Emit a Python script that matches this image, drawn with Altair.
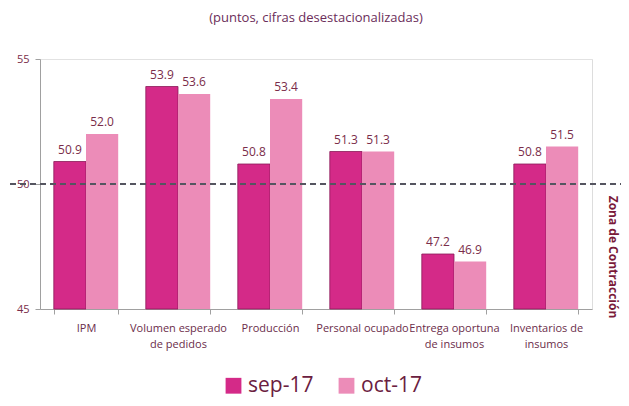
import altair as alt
import pandas as pd

categories = ["IPM", "Volumen esperado|de pedidos", "Producción", "Personal ocupado",
              "Entrega oportuna|de insumos", "Inventarios de|insumos"]
series = ["sep-17", "oct-17"]
sep17 = [50.9, 53.9, 50.8, 51.3, 47.2, 50.8]
oct17 = [52.0, 53.6, 53.4, 51.3, 46.9, 51.5]
y_ticks = [45, 50, 55]

rows = []
for c, a, b in zip(categories, sep17, oct17):
    rows.append({"cat": c, "serie": "sep-17", "valor": a, "label": f"{a:.1f}"})
    rows.append({"cat": c, "serie": "oct-17", "valor": b, "label": f"{b:.1f}"})
df = pd.DataFrame(rows)

FONT = "Open Sans"
TXT = "#7a2d4a"
AX = "#a0a0a0"

x = alt.X("cat:N", sort=categories, title=None,
          scale=alt.Scale(paddingInner=0.3, paddingOuter=0.15),
          axis=alt.Axis(labelExpr="split(datum.label, '|')", labelAngle=0,
                        labelFontSize=11, labelColor="#6b2d4a", labelFont=FONT,
                        labelPadding=8, tickBand="extent", domainColor=AX,
                        tickColor=AX, tickSize=5, labelLineHeight=16, grid=False))
y = alt.Y("valor:Q", title=None,
          scale=alt.Scale(domain=[45, 55], zero=False, nice=False),
          axis=alt.Axis(values=y_ticks, grid=True,
                        gridColor={"condition": {"test": "datum.value == 55", "value": "#e2e2e2"},
                                   "value": "transparent"},
                        labelFontSize=11, labelColor=TXT,
                        labelFont=FONT, domainColor=AX, tickColor=AX,
                        tickSize=5, labelPadding=6))
color = alt.Color("serie:N", sort=series,
                  scale=alt.Scale(domain=series, range=["#d42a88", "#ec8cb8"]),
                  legend=alt.Legend(title=None, orient="none", direction="horizontal",
                                    legendX=183, legendY=316, labelFontSize=21,
                                    labelFont=FONT, labelColor="#6b2040", symbolType="square",
                                    symbolSize=250, columnPadding=22, symbolStrokeWidth=0))

base = alt.Chart(df)

bars = base.mark_bar(stroke="#8a1a58", strokeWidth=0.8).encode(
    x=x, xOffset=alt.XOffset("serie:N", sort=series), y=y, y2=alt.datum(45), color=color,
    strokeOpacity=alt.condition("datum.serie == 'sep-17'", alt.value(1), alt.value(0)))

labels = base.mark_text(dy=-12, fontSize=12, font=FONT, color=TXT).encode(
    x=alt.X("cat:N", sort=categories), xOffset=alt.XOffset("serie:N", sort=series),
    y="valor:Q", text="label:N")

dash = alt.Chart(df).mark_rule(
    color="#555560", strokeWidth=2, strokeDash=[6, 4], clip=False).encode(
    y=alt.datum(50), x=alt.value(-40), x2=alt.value(581))

zona = alt.Chart(pd.DataFrame({"t": ["Zona de Contracción"]})).mark_text(
    angle=90, fontSize=12, fontWeight="bold", font=FONT, color="#7a1a3a").encode(
    text="t:N", x=alt.value(573), y=alt.value(198))

subtitle = alt.Chart(pd.DataFrame({"t": ["(puntos, cifras desestacionalizadas)"]})).mark_text(
    fontSize=13, font=FONT, color="#6b2d5a").encode(
    text="t:N", x=alt.value(276), y=alt.value(-41))

chart = alt.layer(bars, labels, dash, zona, subtitle).properties(
    width=552, height=250,
    autosize=alt.AutoSizeParams(type="none"),
    padding={"left": 32, "top": 51, "right": 29, "bottom": 89},
).configure_view(strokeWidth=0, stroke="transparent").configure(background="white")

chart.save("out.html", embed_options={"renderer": "svg", "actions": False})
